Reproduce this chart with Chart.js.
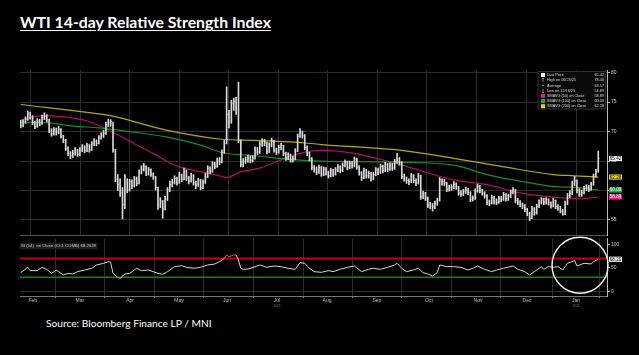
<!DOCTYPE html>
<html><head><meta charset="utf-8">
<script src="https://cdn.jsdelivr.net/npm/chart.js@4.4.1/dist/chart.umd.min.js"></script>
<style>
html,body{margin:0;padding:0;background:#000;width:639px;height:355px;overflow:hidden;}
#title{position:absolute;left:20px;top:13px;color:#fff;font:700 15.8px Lato,sans-serif;text-decoration:underline;text-decoration-thickness:1px;text-underline-offset:2px;white-space:nowrap;line-height:18px;}
#source{position:absolute;left:46px;top:317px;color:#fff;font:400 10.2px Lato,sans-serif;white-space:nowrap;line-height:12px;}
#pc{position:absolute;left:0;top:60px;}
#rc{position:absolute;left:0;top:230px;}
</style></head><body>
<div id="title">WTI 14-day Relative Strength Index</div>
<div id="source">Source: Bloomberg Finance LP / MNI</div>
<canvas id="pc" width="639" height="180"></canvas>
<canvas id="rc" width="639" height="80"></canvas>
<script>
// ---- daily bars (trading-day index 0..244) ----
const closes = [
71.0,71.6,72.1,73.0,72.5,71.5,70.9,71.8,71.3,72.4,
72.6,72.0,70.1,69.6,70.3,69.8,70.4,69.2,68.5,67.1,
66.3,65.9,66.3,66.8,66.1,66.9,67.4,66.8,67.6,66.9,
67.9,68.3,68.0,68.9,69.3,69.7,71.2,71.5,71.7,66.9,
61.9,61.0,59.6,57.6,62.3,60.2,61.5,60.8,61.9,61.2,
63.1,63.6,64.1,62.9,63.5,62.8,62.3,60.5,57.5,58.2,
56.9,58.5,60.1,61.0,61.4,62.0,61.3,62.6,61.9,63.3,
62.1,61.6,62.5,61.3,60.9,61.7,60.5,61.4,62.3,63.8,
63.2,64.5,64.1,65.1,64.8,66.5,68.0,72.9,71.8,74.8,
75.1,73.8,68.5,64.4,64.9,65.2,65.5,65.1,65.5,67.0,
66.5,67.9,68.3,68.1,66.6,67.7,68.4,66.9,66.5,67.3,
67.6,66.3,65.5,66.0,65.2,65.4,66.7,69.2,69.9,69.3,
67.3,66.3,65.4,63.9,63.6,63.1,63.9,62.8,63.6,63.0,
62.5,63.4,62.8,63.5,64.0,63.4,64.3,64.8,63.9,64.6,
64.2,65.3,64.0,63.0,62.2,63.4,62.5,62.9,62.0,62.7,
63.5,63.1,64.1,63.4,64.4,63.6,64.3,63.8,64.9,65.4,
64.7,62.4,62.0,61.7,61.5,62.5,61.7,61.3,62.5,58.9,
59.5,58.7,57.5,57.4,57.2,57.8,58.3,61.8,61.5,61.3,
60.2,60.5,60.6,61.0,60.6,59.6,59.4,59.8,60.1,59.7,
58.5,58.7,59.9,60.7,60.0,59.6,59.1,58.0,57.9,58.8,
58.1,58.0,58.6,58.5,59.3,58.6,59.0,59.7,60.1,58.3,
58.0,57.6,57.4,56.8,56.1,55.3,56.9,56.2,57.3,58.0,
58.4,58.0,58.4,57.9,57.4,58.3,57.3,57.0,56.5,56.0,
57.8,59.1,59.5,61.2,61.6,60.0,59.4,59.6,60.3,60.6,
60.2,61.0,62.4,63.2,65.42];
const highs = [
71.9,72.0,72.5,73.5,73.3,72.7,71.8,72.2,72.1,72.8,
73.2,72.9,72.1,70.5,70.7,70.6,70.9,70.5,69.4,68.7,
67.4,66.6,66.8,67.3,67.0,67.3,67.8,67.6,68.0,67.8,
68.3,68.8,68.6,69.3,69.8,70.2,71.6,72.1,72.0,71.6,
67.0,62.7,62.0,60.5,62.7,62.0,61.9,61.8,62.4,62.3,
63.5,64.2,64.6,64.2,63.9,63.7,63.0,62.4,60.6,58.8,
58.3,59.0,60.5,61.6,61.9,62.5,62.3,63.1,62.8,63.8,
63.5,62.4,62.9,62.7,61.6,62.1,61.9,61.8,62.9,64.2,
64.0,64.9,64.8,65.5,65.6,66.9,68.5,77.6,73.6,75.3,
75.7,75.8,78.4,68.6,65.4,65.7,66.0,65.9,65.9,67.4,
67.3,68.3,68.8,68.7,68.2,68.1,68.9,68.5,67.2,67.7,
68.0,67.7,66.5,66.4,66.2,65.8,67.1,69.6,70.5,70.1,
69.5,67.6,66.5,65.6,64.3,64.0,64.3,64.1,64.0,63.9,
63.3,63.8,63.6,63.9,64.4,64.2,64.7,65.2,65.0,65.0,
64.9,65.7,65.5,64.2,63.2,63.8,63.6,63.3,63.1,63.1,
63.9,63.8,64.5,64.3,64.8,64.6,64.7,64.6,65.3,66.3,
65.6,64.9,62.8,62.3,62.0,62.9,62.7,62.0,62.9,62.6,
59.9,59.7,58.9,58.0,57.8,58.2,58.7,62.2,62.0,61.9,
61.4,60.9,61.0,61.5,61.3,60.7,60.0,60.2,60.6,60.4,
59.8,59.1,60.3,61.1,60.9,60.2,59.8,59.3,58.4,59.2,
59.0,58.6,59.0,59.0,59.7,59.5,59.4,60.1,60.5,60.2,
58.7,58.3,57.9,57.6,57.0,56.3,57.3,57.1,57.7,58.4,
58.8,58.7,58.8,58.6,58.1,58.7,58.4,57.6,57.3,56.8,
58.2,59.5,60.0,61.6,62.4,61.8,60.3,60.1,60.7,61.0,
60.9,61.4,62.8,63.6,66.7];
const lows = [
70.6,70.8,71.4,71.9,72.1,71.2,70.5,70.7,71.0,71.2,
72.0,71.6,69.8,69.2,69.4,69.4,69.6,68.9,68.1,66.8,
65.9,65.4,65.6,66.0,65.8,65.9,66.6,66.4,66.6,66.5,
66.8,67.6,67.6,67.9,68.7,69.0,69.5,70.8,70.9,66.5,
61.5,60.0,59.0,55.2,56.9,59.6,59.9,60.3,60.6,60.8,
61.1,62.8,63.3,62.5,62.6,62.4,61.9,60.1,56.8,57.1,
55.3,56.7,58.3,59.8,60.6,61.1,60.9,61.2,61.5,61.8,
61.7,61.1,61.4,60.9,60.3,60.7,60.1,60.3,61.2,62.2,
62.8,63.1,63.7,63.9,64.4,64.7,66.3,67.9,70.6,71.4,
73.6,72.9,68.1,64.0,64.0,64.6,64.8,64.7,64.8,65.3,
66.1,66.3,67.5,67.6,66.2,66.4,67.4,66.5,66.1,66.3,
66.9,65.9,65.1,65.2,64.8,64.8,65.2,66.6,69.0,68.9,
66.9,65.9,65.0,63.5,63.1,62.7,62.9,62.4,62.5,62.6,
62.1,62.3,62.4,62.6,63.2,63.0,63.2,64.0,63.5,63.7,
63.8,64.0,63.6,62.6,61.7,62.0,62.1,62.1,61.6,61.8,
62.5,62.7,62.9,63.0,63.2,63.2,63.4,63.4,63.6,64.6,
64.3,62.0,61.6,61.2,61.0,61.3,61.3,60.8,61.1,58.5,
58.6,58.3,57.1,56.9,56.5,56.9,57.5,58.2,60.9,60.8,
59.8,59.9,60.0,60.3,60.2,59.2,59.0,59.1,59.5,59.3,
58.1,58.2,58.5,59.7,59.6,59.2,58.7,57.6,57.4,57.7,
57.7,57.6,57.8,58.1,58.3,58.2,58.3,58.8,59.4,57.9,
57.6,57.2,56.9,56.4,55.7,54.9,55.2,55.8,56.0,57.1,
57.7,57.6,57.7,57.5,57.0,57.2,56.9,56.6,56.2,55.8,
55.9,57.6,58.8,59.3,60.8,59.6,59.0,59.0,59.4,60.0,
59.8,60.0,60.9,62.3,63.1];

// ---- moving averages, read at sampled days ----
const ma200Days = [0,34,38,62,85,99,116,127,161,183,203,225,234,244];
const ma200Vals = [74.6,72.95,72.7,70.2,68.7,68.5,68.2,67.8,66.8,65.45,64.1,62.7,62.5,62.28];
const ma100Days = [0,13,20,34,48,62,76,85,99,116,127,161,183,197,211,225,237,244];
const ma100Vals = [71.55,71.45,71.0,70.6,69.9,69.05,67.7,66.45,65.9,65.2,65.0,64.8,64.3,62.7,61.6,60.7,60.45,60.09];
const ma50Days = [0,10,20,28,35,39,48,56,65,76,83,87,93,101,110,118,127,141,161,183,197,211,220,236,244];
const ma50Vals = [72.0,72.7,72.4,71.8,70.7,69.9,67.95,66.3,64.3,63.2,62.6,62.2,63.2,63.8,65.2,66.3,66.8,66.3,64.3,61.8,61.0,59.6,59.1,58.6,58.89];

// ---- RSI (14), read at sampled days ----
const rsiDays = [0,3,4,7,9,11,13,15,18,20,22,24,27,30,32,35,37,38,39,41,42,44,46,48,49,51,54,56,58,60,62,65,68,70,73,76,79,82,84,86,87,88,90,91,92,93,94,96,99,101,104,107,110,113,116,118,120,122,124,127,130,132,135,138,141,144,147,149,152,155,158,159,161,163,166,168,170,172,174,176,177,180,183,186,189,191,193,196,199,201,204,208,210,213,215,217,220,221,223,225,227,229,231,234,235,238,241,242,244];
const rsiVals = [39.6,51,44,44,51,46.7,38.2,45.3,34.7,38.2,36.8,41.8,45.3,48.9,56,59.5,63,61.6,38.2,29.7,27.6,36.8,38,45.3,48.9,44,45.3,41.8,38.2,36.1,41.8,52.4,54.5,51,48.9,51,56,58.1,63,70,77.3,73.7,77.3,77.3,66.6,48.9,46.7,47.4,52.4,56,51,53.8,52.4,48.9,46.7,60.9,59.5,48.9,41.8,40.4,44,41.8,46.8,51,53.9,41.8,46.8,49,46.8,51,56,59.6,49,41.8,45.4,49,39.7,36.9,32.6,39.7,56,52.5,52.5,51,45.4,49,53.9,46.8,41.8,45.4,49,53.9,46.8,41.8,34.8,41.8,52.5,46.8,52.5,51,52.5,45.4,59.6,65.2,53.9,59.6,58.2,63.1,68.2028];
const rsiLevels = [70, 30];

// ---- axes ----
const monthStarts = [14.5,35.6,56.4,77.4,98.3,119.4,140.1,161.0,182.1,202.8,224.6,244.7];
const monthMids = [5.1,25.0,46.2,66.9,87.2,108.3,129.4,150.5,172.5,193.2,213.9,234.6];
const monthLabels = ['Feb','Mar','Apr','May','Jun','Jul','Aug','Sep','Oct','Nov','Dec','Jan'];
const priceTicks = [55,60,65,70,75,80];
const rsiTicks = [0,50,100];

// ---- legend texts ----
const legendLabels = ['Last Price','High on 06/23/25','Average','Low on 12/16/25','SMAVG (50) on Close','SMAVG (100) on Close','SMAVG (200) on Close'];
const legendValues = ['65.42','78.40','63.57','54.89','58.89','60.09','62.28'];
const rsiLegend = 'SI (14)  on Close (CL1 COMB) 68.2028';

const C_BAR = '#d9d9d9', C_Y = '#b8a614', C_G = '#188c24', C_M = '#a4126c';
const C_GRID = '#2c2c2c';
const XMIN = -0.3, XMAX = 247.7;
const FONT = 'Liberation Sans, Arial, sans-serif';

Chart.defaults.animation = false;
Chart.defaults.font.family = FONT;

const pts = (xs, ys) => xs.map((x, k) => ({x, y: ys[k]}));

const priceExtras = {
  id: 'priceExtras',
  afterDraw(chart) {
    const ctx = chart.ctx, ca = chart.chartArea, ys = chart.scales.y;
    ctx.save();
    const tags = [
      [closes[closes.length-1], '#f2f2f2', '#000'],
      [ma200Vals[ma200Vals.length-1], '#e6d200', '#000'],
      [ma100Vals[ma100Vals.length-1], '#1fae3e', '#fff'],
      [ma50Vals[ma50Vals.length-1], '#e0208a', '#fff']
    ];
    ctx.font = '4.5px ' + FONT;
    ctx.textBaseline = 'middle';
    ctx.textAlign = 'center';
    tags.forEach(([v, bg, fg]) => {
      const y = ys.getPixelForValue(v);
      ctx.fillStyle = bg;
      ctx.fillRect(ca.right + 2, y - 2.6, 13, 5.2);
      ctx.fillStyle = fg;
      ctx.fillText(v.toFixed(2), ca.right + 8.5, y + 0.2);
    });
    const bx = ca.right - 69.5, by = ca.top + 1, bw = 68.5, bh = 38.5;
    ctx.fillStyle = '#0b0b0b';
    ctx.fillRect(bx, by, bw, bh);
    ctx.strokeStyle = '#3a3a3a';
    ctx.lineWidth = 0.8;
    ctx.strokeRect(bx + 0.5, by + 0.5, bw - 1, bh - 1);
    const markColors = ['#ffffff', null, null, null, '#e0208a', '#1fae3e', '#e6d200'];
    ctx.font = '3.8px ' + FONT;
    legendLabels.forEach((lab, k) => {
      const y = by + 4 + k * 5.2;
      const c = markColors[k];
      if (c) { ctx.fillStyle = c; ctx.fillRect(bx + 3.5, y - 2, 4, 4); }
      else {
        ctx.strokeStyle = '#ccc'; ctx.lineWidth = 0.6; ctx.beginPath();
        if (k === 1) { ctx.moveTo(bx+4.5,y-1.8); ctx.lineTo(bx+6.5,y-1.8); ctx.moveTo(bx+5.5,y-1.8); ctx.lineTo(bx+5.5,y+1.5); }
        if (k === 2) { ctx.moveTo(bx+4.5,y); ctx.lineTo(bx+6.5,y); }
        if (k === 3) { ctx.moveTo(bx+4.5,y+1.8); ctx.lineTo(bx+6.5,y+1.8); ctx.moveTo(bx+5.5,y+1.8); ctx.lineTo(bx+5.5,y-1.5); }
        ctx.stroke();
      }
      ctx.fillStyle = '#d8d8d8';
      ctx.textAlign = 'left';
      ctx.fillText(lab, bx + 9.5, y + 0.2);
      ctx.textAlign = 'right';
      ctx.fillText(legendValues[k], bx + bw - 2, y + 0.2);
    });
    ctx.restore();
  }
};

new Chart(document.getElementById('pc'), {
  type: 'bar',
  data: { datasets: [
    { type: 'bar', data: closes.map((c, i) => ({x: i, y: [lows[i], highs[i]]})), backgroundColor: C_BAR, borderWidth: 0, barThickness: 1, order: 0 },
    { type: 'line', data: closes.map((c, i) => ({x: i, y: c})), showLine: false, pointStyle: 'dash', pointRadius: 1.1, pointBorderColor: C_BAR, pointBackgroundColor: C_BAR, pointBorderWidth: 1, order: 0 },
    { type: 'line', data: pts(ma200Days, ma200Vals), borderColor: C_Y, borderWidth: 1.2, pointRadius: 0, cubicInterpolationMode: 'monotone', order: 1 },
    { type: 'line', data: pts(ma100Days, ma100Vals), borderColor: C_G, borderWidth: 1.2, pointRadius: 0, cubicInterpolationMode: 'monotone', order: 2 },
    { type: 'line', data: pts(ma50Days, ma50Vals), borderColor: C_M, borderWidth: 1.2, pointRadius: 0, cubicInterpolationMode: 'monotone', order: 3 }
  ]},
  options: {
    responsive: false,
    layout: { padding: { left: 20, top: 10, right: 0, bottom: 2 } },
    plugins: { legend: { display: false }, tooltip: { enabled: false } },
    scales: {
      x: {
        type: 'linear', min: XMIN, max: XMAX, offset: false,
        afterBuildTicks: s => { s.ticks = monthStarts.map(v => ({value: v})); },
        afterFit: s => { s.height = 0; },
        ticks: { display: false },
        grid: { color: C_GRID, drawTicks: false },
        border: { color: '#555', width: 1 }
      },
      y: {
        position: 'right', min: 52.45, max: 80.45,
        afterBuildTicks: s => { s.ticks = priceTicks.map(v => ({value: v})); },
        afterFit: s => { s.width = 32; },
        ticks: { color: '#d0d0d0', font: { size: 5 }, padding: 1 },
        grid: { color: C_GRID, tickColor: '#bbb', tickLength: 3 },
        border: { color: '#bbb', width: 1 }
      }
    }
  },
  plugins: [priceExtras]
});

const rsiExtras = {
  id: 'rsiExtras',
  afterDraw(chart) {
    const ctx = chart.ctx, ca = chart.chartArea, xs = chart.scales.x, ys = chart.scales.y;
    ctx.save();
    ctx.font = '4.3px ' + FONT;
    const tw = ctx.measureText(rsiLegend).width;
    ctx.fillStyle = '#1c1c1c';
    ctx.fillRect(ca.left - 0.5, ca.top + 4.5, tw + 3, 6.5);
    ctx.fillStyle = '#cfcfcf';
    ctx.textBaseline = 'middle';
    ctx.textAlign = 'left';
    ctx.fillText(rsiLegend, ca.left + 1, ca.top + 7.9);
    const last = rsiVals[rsiVals.length - 1];
    const y = ys.getPixelForValue(last);
    ctx.fillStyle = '#f2f2f2';
    ctx.fillRect(ca.right + 2, y - 2.6, 13, 5.2);
    ctx.fillStyle = '#000';
    ctx.textAlign = 'center';
    ctx.font = '4.5px ' + FONT;
    ctx.fillText(last.toFixed(2), ca.right + 8.5, y + 0.2);
    ctx.fillStyle = '#777';
    ctx.font = '3px ' + FONT;
    ctx.fillText('2025', xs.getPixelForValue(monthMids[5]), ca.bottom + 10.5);
    ctx.fillText('2026', xs.getPixelForValue(monthMids[11]), ca.bottom + 10.5);
    ctx.strokeStyle = '#f4f4f4';
    ctx.lineWidth = 1.4;
    ctx.beginPath();
    ctx.arc(xs.getPixelForValue(236.3), ys.getPixelForValue(55.3), 28, 0, Math.PI * 2);
    ctx.stroke();
    ctx.restore();
  }
};

const levelColors = ['#c00000', '#0a8a14'];
new Chart(document.getElementById('rc'), {
  type: 'line',
  data: { datasets: [
    ...rsiLevels.map((lv, k) => ({ data: [{x: XMIN, y: lv}, {x: XMAX, y: lv}], borderColor: levelColors[k], borderWidth: 1.6, pointRadius: 0, order: 2 })),
    { data: pts(rsiDays, rsiVals), borderColor: '#d6d6d6', borderWidth: 1, pointRadius: 0, order: 0,
      segment: { borderColor: c => (c.p0.parsed.y >= 70 && c.p1.parsed.y >= 70) ? '#e04a6a' : ((c.p0.parsed.y <= 30 && c.p1.parsed.y <= 30) ? '#3ac94a' : undefined) } }
  ]},
  options: {
    responsive: false,
    layout: { padding: { left: 20, top: 8.3, right: 0, bottom: 0 } },
    plugins: { legend: { display: false }, tooltip: { enabled: false } },
    scales: {
      x: {
        type: 'linear', min: XMIN, max: XMAX, offset: false,
        afterBuildTicks: s => { s.ticks = monthStarts.concat(monthMids).map(v => ({value: v})); },
        afterFit: s => { s.height = 14; },
        ticks: { autoSkip: false, maxRotation: 0, color: '#bdbdbd', font: { size: 5 }, padding: 0,
          callback: v => { const k = monthMids.indexOf(v); return k >= 0 ? monthLabels[k] : ''; } },
        grid: { color: c => monthStarts.includes(c.tick && c.tick.value) ? C_GRID : 'transparent',
                tickColor: c => monthStarts.includes(c.tick && c.tick.value) ? '#888' : 'transparent', tickLength: 2 },
        border: { color: '#777', width: 1 }
      },
      y: {
        position: 'right', min: -10, max: 112.8,
        afterBuildTicks: s => { s.ticks = rsiTicks.map(v => ({value: v})); },
        afterFit: s => { s.width = 32; },
        ticks: { color: '#d0d0d0', font: { size: 5 }, padding: 1 },
        grid: { color: c => (c.tick && c.tick.value === 0) ? C_GRID : 'transparent', tickColor: '#bbb', tickLength: 3 },
        border: { color: '#bbb', width: 1 }
      }
    }
  },
  plugins: [rsiExtras]
});
</script>
</body></html>
